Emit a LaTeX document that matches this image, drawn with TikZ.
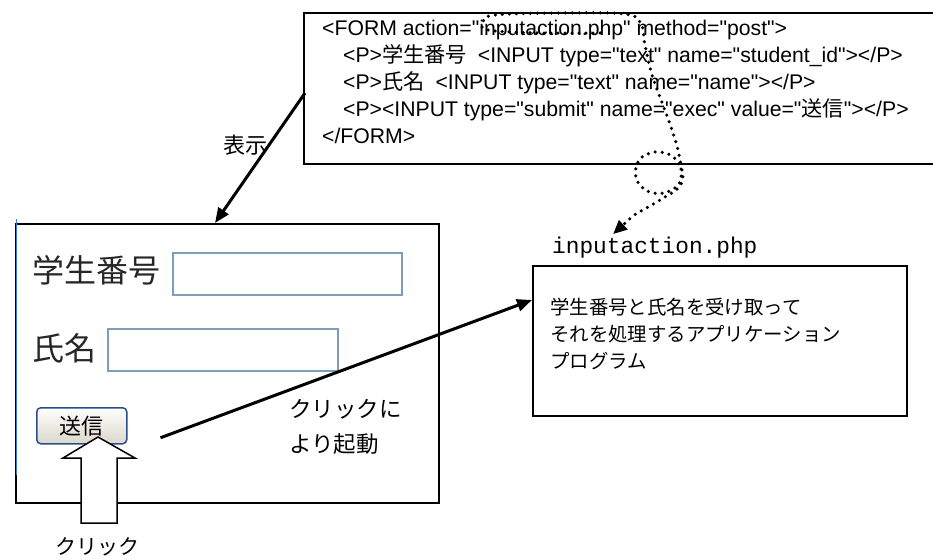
\documentclass[tikz,border=0pt]{standalone}
\usepackage{fontspec}
\setmainfont{Liberation Sans}
\newfontfamily\codefont{Liberation Sans}
\newfontfamily\jpfont{Noto Sans CJK JP}
\newfontfamily\phpfont{Liberation Mono}
\usetikzlibrary{arrows.meta,calc}
\newcommand{\jp}[1]{{\jpfont #1}}

\definecolor{fieldblue}{HTML}{7F9DB9}
\definecolor{btnborder}{HTML}{2B4E8C}
\definecolor{btnshade}{HTML}{DCD7CB}
\definecolor{labelgray}{HTML}{262626}
\definecolor{edgeblue}{HTML}{3C78E0}

\tikzset{
  frame/.style={draw, line width=2pt, inner sep=0pt},
  codeline/.style={anchor=base west, inner sep=0pt, font=\codefont\fontsize{21.2}{25}\selectfont},
  jplabel/.style={inner sep=0pt, font=\jpfont\fontsize{22}{26}\selectfont},
  formlabel/.style={anchor=west, inner sep=0pt, text=labelgray, font=\jpfont\fontsize{32}{36}\selectfont},
  field/.style={draw=fieldblue, line width=1.5pt, anchor=north west, inner sep=0pt},
  solidarrow/.style={line width=3pt, -{Triangle[length=15pt,width=12pt]}},
  dotted path/.style={line width=3.5pt, line cap=round, dash pattern=on 0pt off 7pt,
    -{Triangle[length=14pt,width=12pt]}},
}

\begin{document}
\begin{tikzpicture}[x=1pt,y=-1pt]
\useasboundingbox (0,0) rectangle (933,559);
\clip (0,0) rectangle (933,559);

% HTML source of the form (its right edge runs off the page)
\node[frame, anchor=north west, minimum width=700pt, minimum height=151pt] (codebox) at (303,12) {};
\node[codeline] (l1) at (322,35.5) {<FORM action="inputaction.php" method="post">};
\node[codeline] (l2) at (343,62.5) {<P>\jp{学生番号}\hspace{11pt}<INPUT type="text" name="student\_id"></P>};
\node[codeline] (l3) at (343,89.5) {<P>\jp{氏名}\hspace{11pt}<INPUT type="text" name="name"></P>};
\node[codeline] (l4) at (343,116.5) {<P><INPUT type="submit" name="exec" value="\jp{送信}"></P>};
\node[codeline] (l5) at (322,143) {</FORM>};

% rendered form in the browser
\node[frame, anchor=north west, minimum width=423pt, minimum height=279pt] (form) at (15,223) {};
\draw[edgeblue, line width=1.2pt] (16.5,219) -- (16.5,475);
\node[formlabel] (lbid) at (32,270) {学生番号};
\node[field, minimum width=229pt, minimum height=42pt] (fid) at (172,252) {};
\node[formlabel] (lbname) at (32,348) {氏名};
\node[field, minimum width=230pt, minimum height=42pt] (fname) at (107,328) {};
\node[draw=btnborder, line width=1.5pt, rounded corners=4pt, top color=white, bottom color=btnshade,
      anchor=north west, minimum width=90pt, minimum height=36pt, inner sep=0pt,
      font=\jpfont\fontsize{22}{26}\selectfont] (btn) at (36,407) {送信};

% hollow arrow pointing at the button
\draw[fill=white, line width=1.5pt] (98,437) -- (135,458) -- (117,458) -- (117,523)
  -- (81,523) -- (81,458) -- (63,458) -- cycle;
\node[jplabel, font=\jpfont\fontsize{21}{25}\selectfont] (click) at (97,547) {クリック};

% server-side program
\node[frame, anchor=north west, minimum width=374pt, minimum height=150pt] (app) at (532,265) {};
\node[anchor=west, inner sep=0pt, font=\phpfont\fontsize{22.8}{26}\selectfont] (php) at (552,248) {inputaction.php};
\node[anchor=north west, inner sep=0pt, align=left, font=\jpfont\fontsize{19.4}{27}\selectfont] (apptext) at (550,297.5)
  {学生番号と氏名を受け取って\\それを処理するアプリケーション\\プログラム};

% labels of the arrows
\node[jplabel] (show) at (245,145) {表示};
\node[jplabel, anchor=north west, align=left, font=\jpfont\fontsize{22.5}{35}\selectfont] (launch) at (289,399)
  {クリックに\\より起動};

% arrows
\draw[solidarrow] ($(codebox.north west)+(2,81)$) -- ($(form.north west)+(200,0)$);
\coordinate (btnout) at ($(btn.east)+(33,12)$);
\draw[solidarrow] (btnout) -- ($(app.north west)+(0,35)$);

% action attribute pointing to the program
\draw[dotted path] plot[smooth, tension=0.6] coordinates {(600,33) (540,33) (488,30) (483,22) (495,15)
  (560,13) (625,14) (641,24) (645,45) (652,75) (663,105) (672,130) (678,150) (681,168) (679,184)
  (664,193) (647,191) (636,178) (639,160) (655,152) (672,156) (682,170) (680,186) (660,200) (634,215)}
  -- ($(php.north west)+(61,-3)$);
\end{tikzpicture}
\end{document}
